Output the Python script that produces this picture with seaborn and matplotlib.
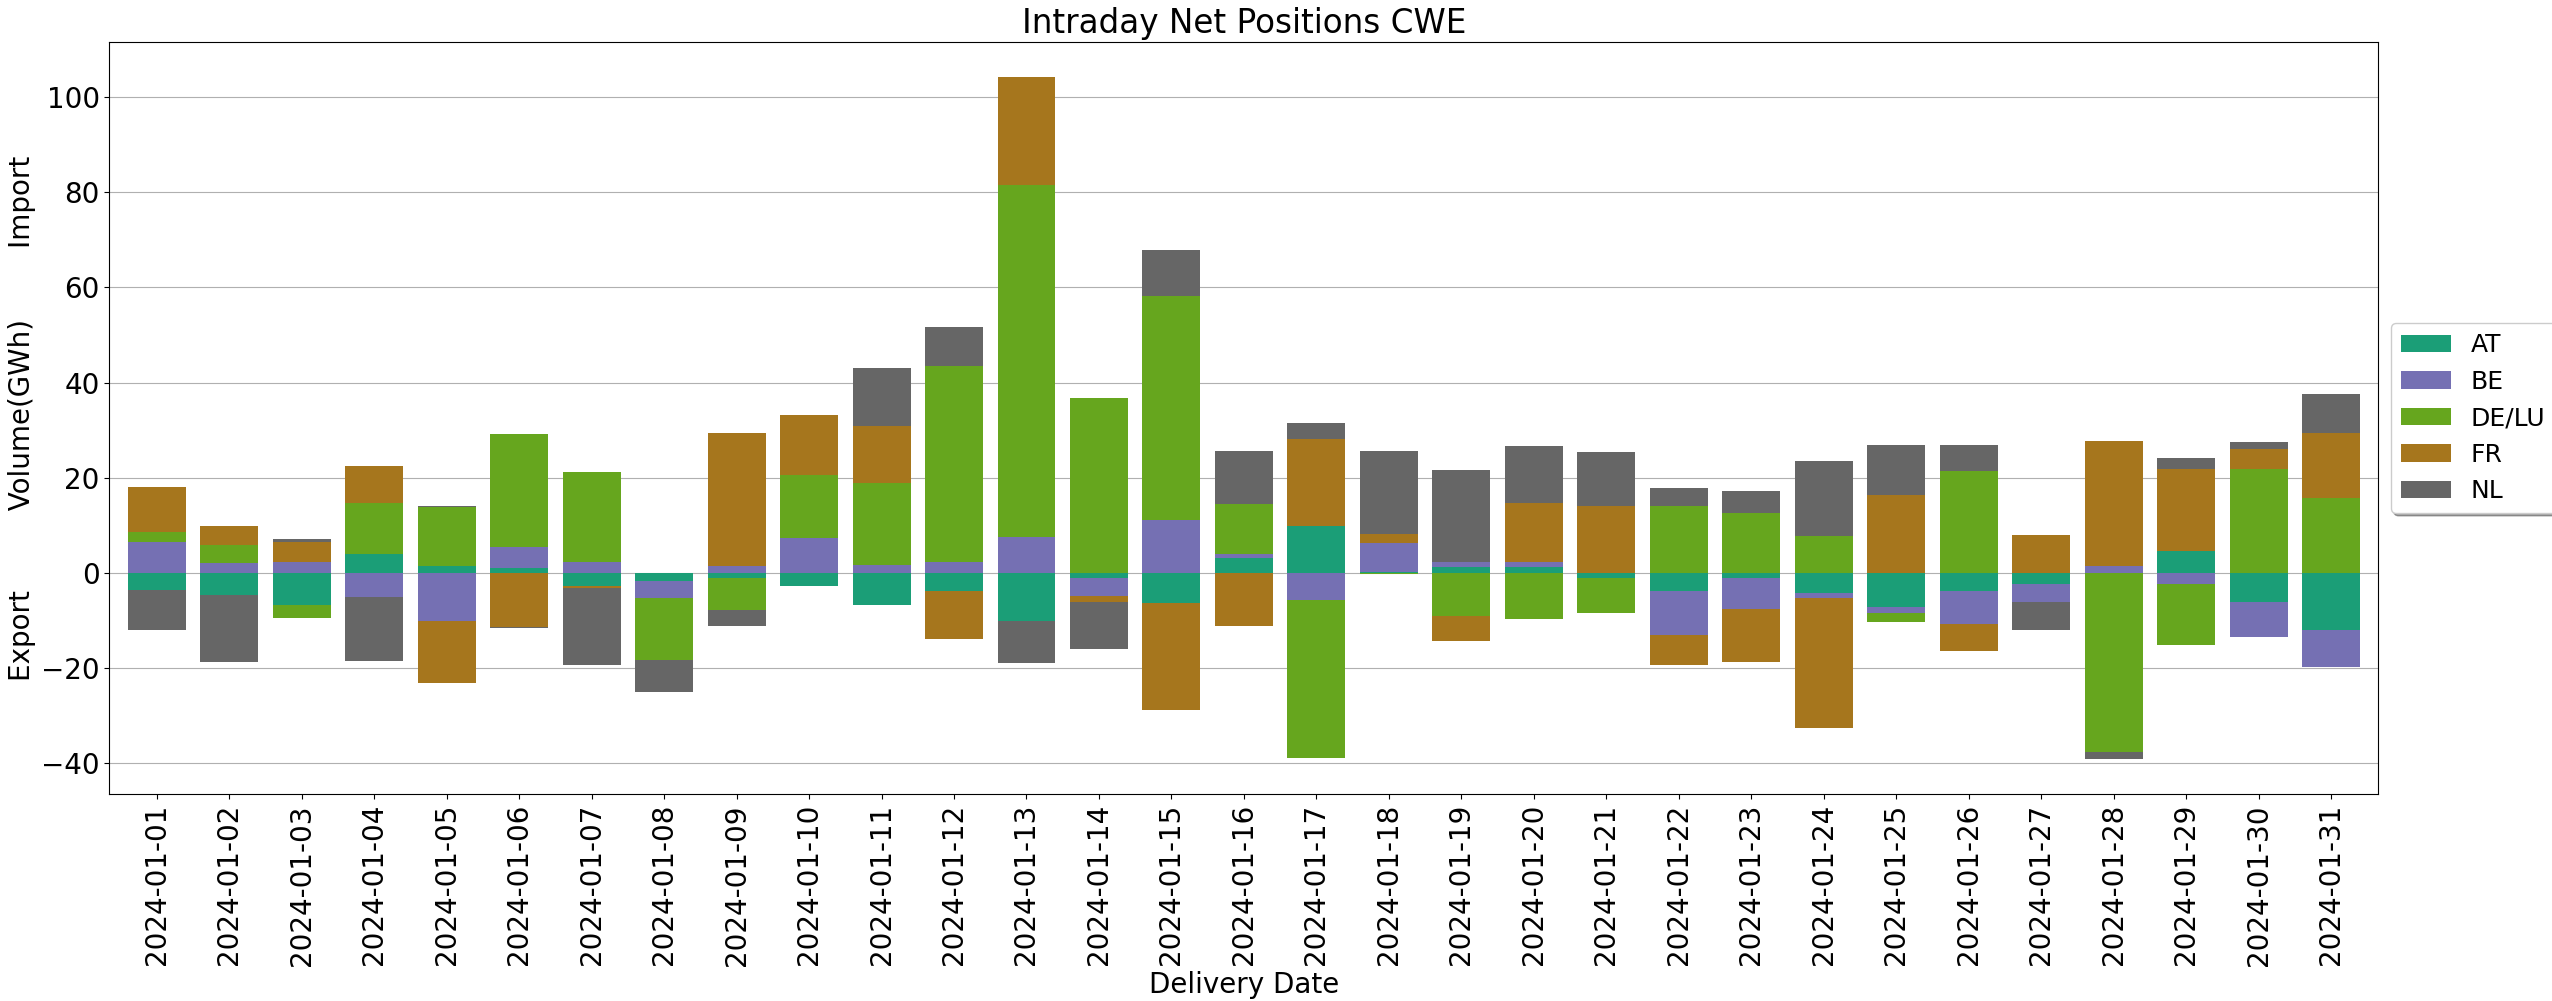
import numpy as np
import pandas as pd
import matplotlib
matplotlib.use("Agg")
import matplotlib.pyplot as plt
import seaborn as sns

# ── DATA (GWh, + import / - export) ──────────────────────────────────
dates = pd.date_range("2024-01-01", "2024-01-31").strftime("%Y-%m-%d").tolist()
zones = ["AT", "BE", "DE/LU", "FR", "NL"]

at = [-3.5, -4.7, -6.8, 4.0, 1.4, 1.0, -2.65, -1.7, -1.0, -2.8,
      -6.8, -3.8, -10.1, -1.05, -6.4, 3.2, 9.9, 0.3, 1.2, 1.3,
      -1.0, -3.7, -1.0, -4.2, -7.1, -3.7, -2.3, 0.0, 4.7, -6.2, -12.0]
be = [6.5, 2.0, 2.4, -5.1, -10.1, 4.5, 2.4, -3.6, 1.4, 7.3,
      1.7, 2.2, 7.6, -3.85, 11.1, 0.7, -5.7, 5.9, 1.1, 1.0,
      0.0, -9.4, -6.5, -1.0, -1.4, -7.1, -3.9, 1.4, -2.4, -7.3, -7.7]
de_lu = [2.2, 3.9, -2.7, 10.8, 12.4, 23.7, 18.9, -13.0, -6.8, 13.3,
         17.3, 41.2, 74.0, 36.7, 47.0, 10.6, -33.2, -0.3, -9.0, -9.6,
         -7.5, 14.1, 12.5, 7.8, -1.8, 21.5, 0.0, -37.7, -12.7, 21.9, 15.8]
fr = [9.3, 3.9, 4.0, 7.7, -13.1, -11.4, -0.5, 0.0, 28.1, 12.6,
      11.9, -10.0, 22.6, -1.25, -22.3, -11.2, 18.3, 2.0, -5.2, 12.3,
      14.1, -6.3, -11.2, -27.3, 16.3, -5.7, 7.9, 26.4, 17.2, 4.1, 13.7]
nl = [-8.5, -14.0, 0.7, -13.3, 0.2, -0.1, -16.2, -6.8, -3.3, 0.0,
      12.1, 8.2, -8.9, -9.9, 9.8, 11.2, 3.2, 17.4, 19.4, 12.1,
      11.3, 3.7, 4.7, 15.7, 10.5, 5.3, -5.7, -1.4, 2.2, 1.5, 8.0]

df = pd.DataFrame({"AT": at, "BE": be, "DE/LU": de_lu, "FR": fr, "NL": nl},
                  index=dates)

# Dark2 colormap sampled at 5 points (as pandas colormap='Dark2' does)
pal = sns.color_palette("Dark2", 8)
colors = [pal[i] for i in (0, 2, 4, 6, 7)]

# ── PLOT ──────────────────────────────────────────────────────────────
fig, ax = plt.subplots(figsize=(25.52, 10.01), dpi=100)
fig.subplots_adjust(left=0.0429, right=0.932, bottom=0.2065, top=0.9583)

pos_base = np.zeros(len(dates))
neg_base = np.zeros(len(dates))
for name, col in zip(zones, colors):
    vals = df[name].to_numpy()
    bottom = np.where(vals >= 0, pos_base, neg_base)
    sns.barplot(x=dates, y=vals, bottom=bottom, color=col, label=name,
                width=0.8, saturation=1, errorbar=None, linewidth=0, ax=ax)
    pos_base += np.clip(vals, 0, None)
    neg_base += np.clip(vals, None, 0)

ax.set_xlim(-0.65, len(dates) - 0.35)
ax.set_ylim(-46.5, 111.6)
ax.yaxis.grid(True, color="#b0b0b0", linewidth=0.8)
ax.xaxis.grid(False)
ax.set_axisbelow(True)

ax.set_xticks(range(len(dates)))
ax.set_xticklabels(dates, rotation=90)
ax.tick_params(labelsize=20)

ax.set_title("Intraday Net Positions CWE", fontsize=23.5)
ax.set_xlabel("Delivery Date", fontsize=20)
ax.set_ylabel("Export" + " " * 9 + "Volume(GWh)" + " " * 8 + "Import", fontsize=20)

handles, labels = ax.get_legend_handles_labels()
ax.legend(handles, labels, loc="center left", bbox_to_anchor=(1, 0.5),
          shadow=True, fontsize=18)

fig.savefig("out.png", dpi=100)
